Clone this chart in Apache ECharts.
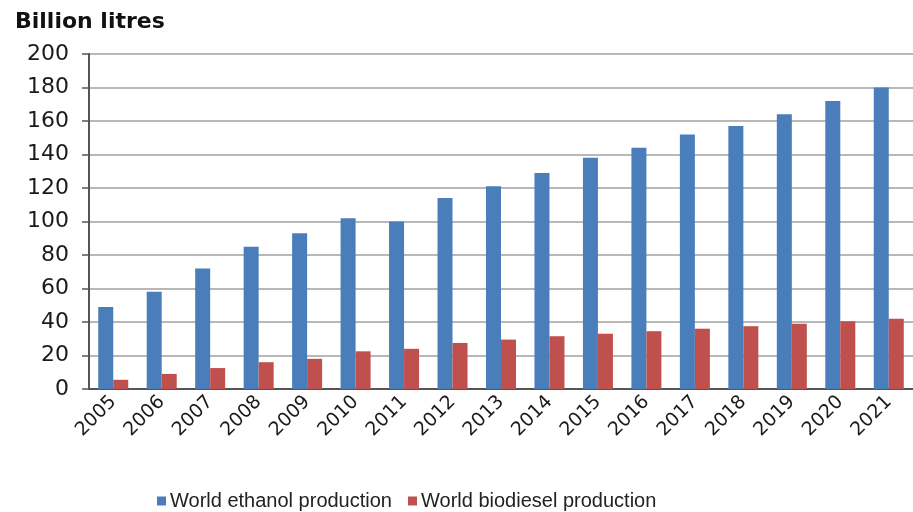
<!DOCTYPE html>
<html>
<head>
<meta charset="utf-8">
<script src="https://cdn.jsdelivr.net/npm/echarts@6/dist/echarts.min.js"></script>
<style>
    html, body { margin: 0; padding: 0; background: #fff; }
    #chart { width: 913px; height: 512px; }
</style>
</head>
<body>
<div id="chart"></div>
<script>
const years = ["2005", "2006", "2007", "2008", "2009", "2010", "2011", "2012", "2013",
    "2014", "2015", "2016", "2017", "2018", "2019", "2020", "2021"];
const ethanol = [49, 58, 72, 85, 93, 102, 100, 114, 121, 129, 138, 144, 152, 157, 164, 172, 180];
const biodiesel = [5.5, 9, 12.5, 16, 18, 22.5, 24, 27.5, 29.5, 31.5, 33, 34.5, 36, 37.5, 39, 40.5, 42];
const yTicks = [0, 20, 40, 60, 80, 100, 120, 140, 160, 180, 200];

document.addEventListener("DOMContentLoaded", function () {
    const chart = echarts.init(document.querySelector("#chart"));
    const options = {
        animation: false,
        backgroundColor: "#fff",
        title: {
            text: "Billion litres",
            left: 10,
            top: 6,
            textStyle: { fontFamily: "DejaVu Sans", fontSize: 22, fontWeight: "bold", color: "#111" }
        },
        legend: {
            left: 152,
            top: 486,
            icon: "rect",
            itemWidth: 9,
            itemHeight: 9,
            itemGap: 16,
            textStyle: { fontFamily: "Liberation Sans", fontSize: 20, color: "#222", padding: [0, 0, 0, -1] },
            data: ["World ethanol production", "World biodiesel production"]
        },
        grid: { left: 89, right: -6, top: 54, bottom: 123 },
        xAxis: {
            type: "category",
            data: years,
            axisLine: { lineStyle: { color: "#555", width: 2 } },
            axisTick: { show: false },
            axisLabel: {
                rotate: 45,
                margin: 10,
                fontFamily: "DejaVu Sans",
                fontSize: 19,
                color: "#1a1a1a"
            }
        },
        yAxis: {
            type: "value",
            min: yTicks[0],
            max: yTicks[yTicks.length - 1],
            interval: 20,
            axisLine: { show: true, lineStyle: { color: "#555", width: 2 } },
            axisTick: { show: true, length: 7, lineStyle: { color: "#555", width: 1.5 } },
            splitLine: { lineStyle: { color: "#a0a0a0", width: 1.5 } },
            axisLabel: {
                margin: 20,
                fontFamily: "DejaVu Sans",
                fontSize: 22,
                color: "#1a1a1a"
            }
        },
        series: [
            {
                name: "World ethanol production",
                type: "bar",
                data: ethanol,
                barWidth: 15,
                barGap: "0%",
                itemStyle: { color: "#4a7ebb" }
            },
            {
                name: "World biodiesel production",
                type: "bar",
                data: biodiesel,
                barWidth: 15,
                itemStyle: { color: "#c0504d" }
            }
        ]
    };
    chart.setOption(options);
});
</script>
</body>
</html>
